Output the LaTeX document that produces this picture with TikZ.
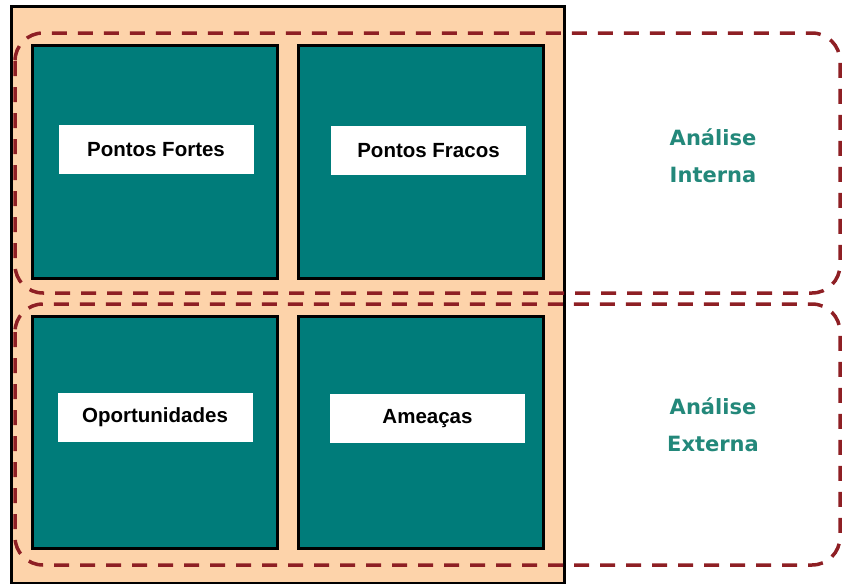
\documentclass[tikz,border=0pt]{standalone}
\usepackage{fontspec}
\setmainfont{Liberation Sans}
\newfontfamily\anafont{DejaVu Sans}
\definecolor{peach}{HTML}{FDD3AA}
\definecolor{tealbox}{HTML}{007C7A}
\definecolor{dashred}{HTML}{8E1F24}
\definecolor{anatext}{HTML}{23887A}
\begin{document}
\begin{tikzpicture}[x=1pt,y=-1pt,
  frame/.style={draw=black,line width=2.5pt,fill=peach,anchor=north west,inner sep=0pt},
  quad/.style={draw=black,line width=3pt,fill=tealbox,anchor=north west,inner sep=0pt,minimum width=245pt},
  lab/.style={fill=white,inner sep=0pt,minimum width=195pt,minimum height=49pt,font=\fontsize{20.5}{24}\selectfont\bfseries},
  zone/.style={draw=dashred,line width=3.5pt,dash pattern=on 15pt off 11pt,rounded corners=28pt},
  ana/.style={text=anatext,align=center,font=\anafont\bfseries\fontsize{21}{37}\selectfont}]
\useasboundingbox (0,0) rectangle (844,584);
\node[frame,minimum width=553pt,minimum height=577pt] (outer) at (10,5) {};
\node[quad,minimum height=233pt] (tl) at (31,44) {};
\node[quad,minimum height=233pt] (tr) at (297,44) {};
\node[quad,minimum height=232pt] (bl) at (31,315) {};
\node[quad,minimum height=232pt] (br) at (297,315) {};
\node[lab] (pf) at (156,149.5) {Pontos Fortes};
\node[lab] (pfr) at (428.5,150.5) {Pontos Fracos};
\node[lab] (op) at (155,417) {Oportunidades};
\node[lab] (am) at (427.5,418.5) {Ameaças};
\coordinate (ia) at (15,33);
\coordinate (ib) at (840,293);
\coordinate (ea) at (15,304);
\coordinate (eb) at (840,565);
\draw[zone] (ia) rectangle (ib);
\draw[zone] (ea) rectangle (eb);
\node[ana] (interna) at (713,156) {Análise\\Interna};
\node[ana] (externa) at (713,425) {Análise\\Externa};
\end{tikzpicture}
\end{document}
